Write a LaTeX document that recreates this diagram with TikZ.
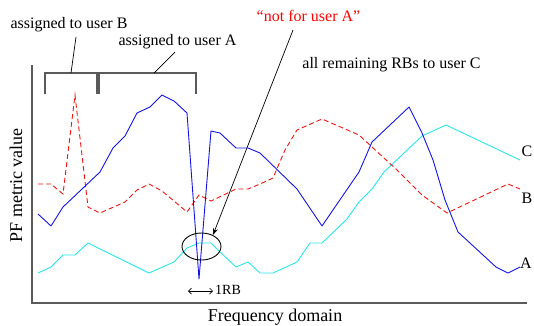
\documentclass[tikz,border=0pt]{standalone}
\usepackage{fontspec}
\setmainfont{Liberation Serif}
\usetikzlibrary{arrows.meta,shapes.geometric}
\definecolor{axisgray}{RGB}{90,90,90}
\definecolor{curveA}{RGB}{20,20,230}
\definecolor{curveB}{RGB}{240,20,20}
\definecolor{curveC}{RGB}{40,230,230}
\tikzset{
  lbl/.style={inner sep=0pt, anchor=base, font=\fontsize{16}{19}\selectfont},
  axisline/.style={draw=axisgray, line width=1.2pt},
  bracketline/.style={draw=axisgray, line width=1.1pt},
  leader/.style={draw=black, line width=0.7pt},
  lineA/.style={draw=curveA, line width=0.9pt, line join=round},
  lineB/.style={draw=curveB, line width=0.9pt, dash pattern=on 5pt off 3pt},
  lineC/.style={draw=curveC, line width=0.9pt, line join=round},
}
\begin{document}
\begin{tikzpicture}[x=1pt,y=-1pt]
\useasboundingbox (0,0) rectangle (534,325);
% axes
\coordinate (org) at (32,303);
\coordinate (ytop) at (32,65);
\coordinate (xend) at (527,303);
\draw[axisline] (ytop) -- (org) -- (xend);
% curves
\draw[lineC] (38,273)--(51,267)--(63,255)--(75,255)--(88,243)--(149,273)--(174,262)--(187,248)--(199,243)--(211,243)--(220,252)--(236,267)--(248,262)--(260,273)--(273,273)--(297,262)--(310,243)--(322,243)--(347,219)--(359,202)--(372,189)--(384,172)--(422,136)--(446,125)--(520,160);
\draw[lineB] (38,184)--(51,184)--(63,194)--(75,95)--(88,207)--(100,213)--(125,202)--(137,190)--(149,184)--(162,191)--(174,201)--(187,212)--(199,195)--(211,201)--(236,189)--(248,189)--(260,184)--(273,178)--(285,150)--(297,130)--(322,119)--(359,135)--(372,147)--(397,170)--(422,195)--(447,213)--(508,184)--(520,189);
\draw[lineA] (38,214)--(51,226)--(63,207)--(100,172)--(113,148)--(125,136)--(137,113)--(150,107)--(162,95)--(174,101)--(187,113)--(199,279)--(211,131)--(220,133)--(236,148)--(248,148)--(260,153)--(297,189)--(322,226)--(359,172)--(372,142)--(409,107)--(422,133)--(433,160)--(445,200)--(458,232)--(496,267)--(508,273)--(520,267);
% curve labels
\node[lbl] (labC) at (527,156) {C};
\node[lbl] (labBc) at (527,203) {B};
\node[lbl] (labAc) at (526,268) {A};
% axis labels
\node[lbl, font=\fontsize{18}{21}\selectfont] (xlab) at (275,321) {Frequency domain};
\node[lbl, rotate=90, font=\fontsize{18}{21}\selectfont] (ylab) at (22,185.5) {PF metric value};
% brackets
\coordinate (bB1) at (45,94); \coordinate (bB2) at (45,73);
\coordinate (bB3) at (97,73); \coordinate (bB4) at (97,94);
\coordinate (bA1) at (99,94); \coordinate (bA2) at (99,73);
\coordinate (bA3) at (196,73); \coordinate (bA4) at (196,94);
\draw[bracketline] (bB1) -- (bB2) -- (bB3) -- (bB4);
\draw[bracketline] (bA1) -- (bA2) -- (bA3) -- (bA4);
\coordinate (bBm) at (71,73);
\coordinate (bAm) at (154,73);
\node[lbl] (labB) at (69,28) {assigned to user B};
\node[lbl] (labA) at (177.5,45) {assigned to user A};
\draw[leader] ([xshift=7pt,yshift=-9pt]labB.base) -- (bBm);
\draw[leader] ([xshift=-2.5pt,yshift=-7pt]labA.base) -- (bAm);
% top right label
\node[lbl] (labRest) at (391.5,68) {all remaining RBs to user C};
% not for user A
\node[lbl, text=red] (notA) at (308.5,21) {“not for user A”};
\node[ellipse, draw=black, line width=0.9pt, minimum width=39pt, minimum height=27pt, inner sep=0pt] (ell) at (201.5,246.5) {};
\draw[leader, -{Stealth[length=7pt,width=5pt]}] ([xshift=-15.5pt,yshift=-9pt]notA.base) -- (ell.45);
% 1RB
\coordinate (rbL) at (188,291);
\coordinate (rbR) at (213,291);
\draw[line width=0.7pt, {Straight Barb[length=3pt]}-{Straight Barb[length=3pt]}] (rbL) -- (rbR);
\node[lbl, font=\fontsize{14}{17}\selectfont] (rb) at (228,294) {1RB};
\end{tikzpicture}
\end{document}
